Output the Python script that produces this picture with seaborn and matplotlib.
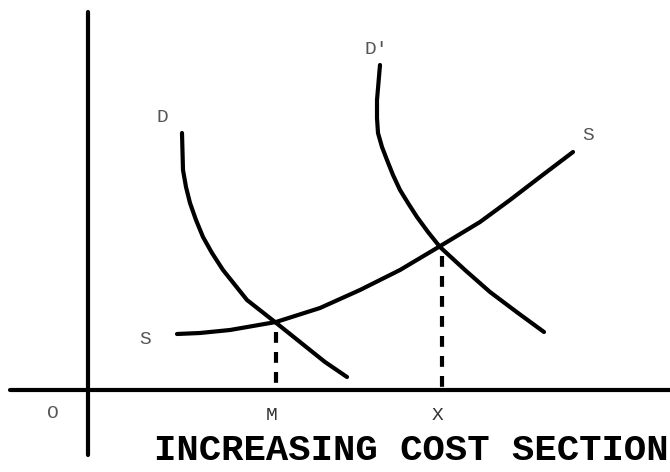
import matplotlib
matplotlib.use("Agg")
import matplotlib.pyplot as plt
import seaborn as sns
import pandas as pd

# Quantity (q) and price (p), origin at the axes' crossing
d_q = [94, 95, 98, 102, 108, 115, 124, 135, 147, 159, 173, 187, 212, 237, 259]
d_p = [257, 220, 203, 187, 170, 153, 137, 120, 105, 90, 79, 68, 48, 28, 13]

d2_q = [292, 289, 289, 290, 294, 299, 305, 312, 320, 329, 340, 352, 377, 402, 430, 456]
d2_p = [325, 290, 272, 257, 243, 230, 215, 200, 187, 173, 158, 143, 120, 98, 77, 58]

s_q = [89, 112, 142, 188, 232, 272, 312, 354, 392, 422, 452, 485]
s_p = [56, 57, 60, 68, 82, 100, 120, 145, 168, 190, 213, 238]

eq_q = [188, 354]
eq_p = [64, 140]
eq_labels = ["M", "X"]

curve_labels = ["D", "D'", "S", "S", "O"]
curve_label_q = [74, 288, 500, 57, -35]
curve_label_p = [272, 340, 255, 50, -23]

title = "INCREASING COST SECTION"

sns.set_style("white")
fig = plt.figure(figsize=(6.7, 4.72), dpi=100)
ax = fig.add_axes([0, 0, 1, 1])
ax.set_xlim(-88, 582)
ax.set_ylim(-82, 390)
ax.axis("off")

lw = 3.0
for q, p in [(d_q, d_p), (d2_q, d2_p), (s_q, s_p)]:
    df = pd.DataFrame({"q": q, "p": p})
    sns.lineplot(data=df, x="q", y="p", sort=False, estimator=None,
                 errorbar=None, color="black", lw=lw, ax=ax,
                 solid_capstyle="round", solid_joinstyle="round")

# axes
ax.plot([0, 0], [378, -65], color="black", lw=3.0, solid_capstyle="round")
ax.plot([-78, 582], [0, 0], color="black", lw=3.0, solid_capstyle="round")

# dashed drop lines
for q, p in zip(eq_q, eq_p):
    ax.plot([q, q], [p - 6, 3], color="black", lw=3.0, ls=(0, (2.6, 2.2)))

font = ["Liberation Mono", "DejaVu Sans Mono"]
for lab, q, p in zip(curve_labels, curve_label_q, curve_label_p):
    ax.text(q, p, lab, family=font, fontsize=14, color="#555555",
            ha="center", va="center")
for lab, q in zip(eq_labels, eq_q):
    ax.text(q - 4, -26, lab, family=font, fontsize=14, color="#333333",
            ha="center", va="center")

ax.text(581, -60, title, family=font, fontsize=26.8, fontweight="bold",
        color="black", ha="right", va="center")

fig.savefig("out.png", dpi=100)
